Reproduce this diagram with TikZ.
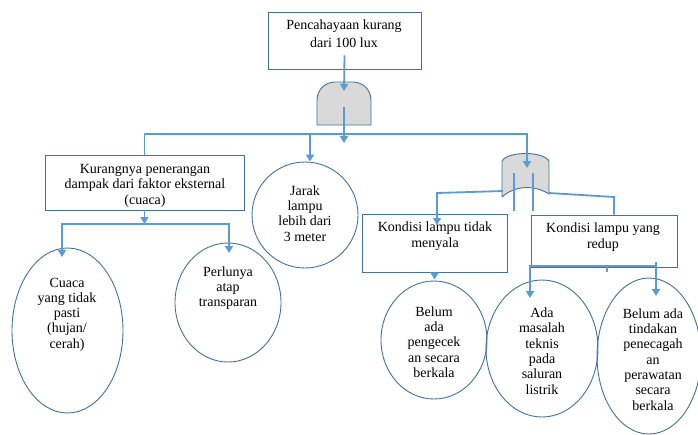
\documentclass[tikz,border=0pt]{standalone}
\usepackage{fontspec}
\setmainfont{Liberation Serif}
\usetikzlibrary{arrows.meta,shapes.geometric}
\definecolor{linkblue}{HTML}{5B9BD5}
\definecolor{edgeblue}{HTML}{41719C}
\definecolor{gatefill}{HTML}{D9D9D9}
\begin{document}
\begin{tikzpicture}[x=1pt,y=-1pt,
  box/.style={draw=edgeblue,line width=0.9pt,rectangle,inner sep=0pt,fill=white},
  oval/.style={draw=edgeblue,line width=0.9pt,ellipse,inner sep=0pt},
  gate/.style={draw=edgeblue,line width=0.9pt,fill=gatefill},
  boxtext/.style={font=\fontsize{14}{15.5}\selectfont,align=center,inner sep=0pt},
  ovaltext/.style={font=\fontsize{14}{15.3}\selectfont,align=center,inner sep=0pt},
  link/.style={draw=linkblue,line width=1.8pt},
  tip/.style={-{Triangle[length=7pt,width=8pt]}},
  twotips/.style={{Triangle[length=7pt,width=8pt]}-{Triangle[length=7pt,width=8pt]}}]
\useasboundingbox (0,0) rectangle (698,434);

% rectangular boxes
\node[box,minimum width=153pt,minimum height=57pt] (top) at (344.5,40.5) {};
\node[box,minimum width=199pt,minimum height=55pt] (kur) at (144.5,182.5) {};
\node[box,minimum width=145pt,minimum height=58pt] (men) at (434.5,243) {};
\node[box,minimum width=146pt,minimum height=52pt] (red) at (604,241) {};

% ovals
\node[oval,minimum width=111pt,minimum height=165pt] (cua) at (67.5,330.5) {};
\node[oval,minimum width=106pt,minimum height=119pt] (per) at (228,302.5) {};
\node[oval,minimum width=106pt,minimum height=106pt] (jar) at (305,215) {};
\node[oval,minimum width=106pt,minimum height=118pt] (bel) at (434,340) {};
\node[oval,minimum width=112pt,minimum height=137pt] (ada) at (542,348.5) {};
\node[oval,minimum width=104pt,minimum height=156pt] (tin) at (649,356) {};

% texts
\node[boxtext,font=\fontsize{14}{18}\selectfont] (ttop) at (344,34) {Pencahayaan kurang\\dari 100 lux};
\node[boxtext] (tkur) at (145,185.5) {Kurangnya penerangan\\dampak dari faktor eksternal\\(cuaca)};
\node[boxtext] (tmen) at (435,236) {Kondisi lampu tidak\\menyala};
\node[boxtext] (tred) at (603,237) {Kondisi lampu yang\\redup};
\node[ovaltext] (tcua) at (67,314.5) {Cuaca\\yang tidak\\pasti\\(hujan/\\cerah)};
\node[ovaltext] (tper) at (228,288) {Perlunya\\atap\\transparan};
\node[ovaltext] (tjar) at (305,213.5) {Jarak\\lampu\\lebih dari\\3 meter};
\node[ovaltext] (tbel) at (434,342) {Belum\\ada\\pengecek\\an secara\\berkala};
\node[ovaltext] (tada) at (542,351) {Ada\\masalah\\teknis\\pada\\saluran\\listrik};
\node[ovaltext] (ttin) at (653,359.5) {Belum ada\\tindakan\\penecagah\\an\\perawatan\\secara\\berkala};

% first gate (rounded top)
\draw[gate] (317,125) -- (317,100) .. controls (317,90) and (325,82) .. (335,82)
  -- (353,82) .. controls (363,82) and (371,90) .. (371,100) -- (371,125) -- cycle;
% second gate (domed top, curved base)
\draw[gate] (502,197) -- (502,161) .. controls (508,151) and (543,151) .. (549,161)
  -- (549,194) .. controls (535,185) and (515,185) .. (502,197);

% junction points
\coordinate (g1in)  at (344,91);
\coordinate (g1out) at (344,107);
\coordinate (g1end) at (344,143);
\coordinate (busR)  at (527,134);
\coordinate (jbr)   at (310,134);
\coordinate (g2in)  at (527,168);
\coordinate (g2l)   at (503,191);
\coordinate (g2r)   at (549,193);
\coordinate (mbend) at (437,193);
\coordinate (mend)  at (437,225);
\coordinate (rbend) at (614,197);
\coordinate (kbusL) at (62,224);
\coordinate (kbusR) at (229,224);
\coordinate (cuaend) at (62,257);
\coordinate (perend) at (229,253);
\coordinate (rbusL) at (530,266);
\coordinate (rbusR) at (656,266);
\coordinate (adaend) at (530,298);
\coordinate (tinbeg) at (656,262);
\coordinate (tinend) at (656,296);

% connectors
\draw[link,tip] ([yshift=14pt]top.south) -- (g1in);
\draw[link,tip] (g1out) -- (g1end);
\draw[link,tip] (kur.north) |- (busR) -- (g2in);
\draw[link,tip] (jbr) -- (jbr |- jar.north);
\draw[link,tip] (kur.south) -- (kur.south |- kbusL);
\draw[link,twotips] (cuaend) -- (kbusL) -- (kbusR) -- (perend);
\draw[link] (514,173) -- (514,211);
\draw[link] (533,173) -- (533,211);
\draw[link,tip] (g2l) -- (mbend) -- (mend);
\draw[link] (g2r) -- (rbend) -- (rbend |- red.north);
\draw[link,tip] (men.south) -- ++(0,7);
\draw[link,tip] (rbusR) -- (rbusL) -- (adaend);
\draw[link,tip] (tinbeg) -- (tinend);
\draw[link] (607,266) -- (607,272);
\end{tikzpicture}
\end{document}
